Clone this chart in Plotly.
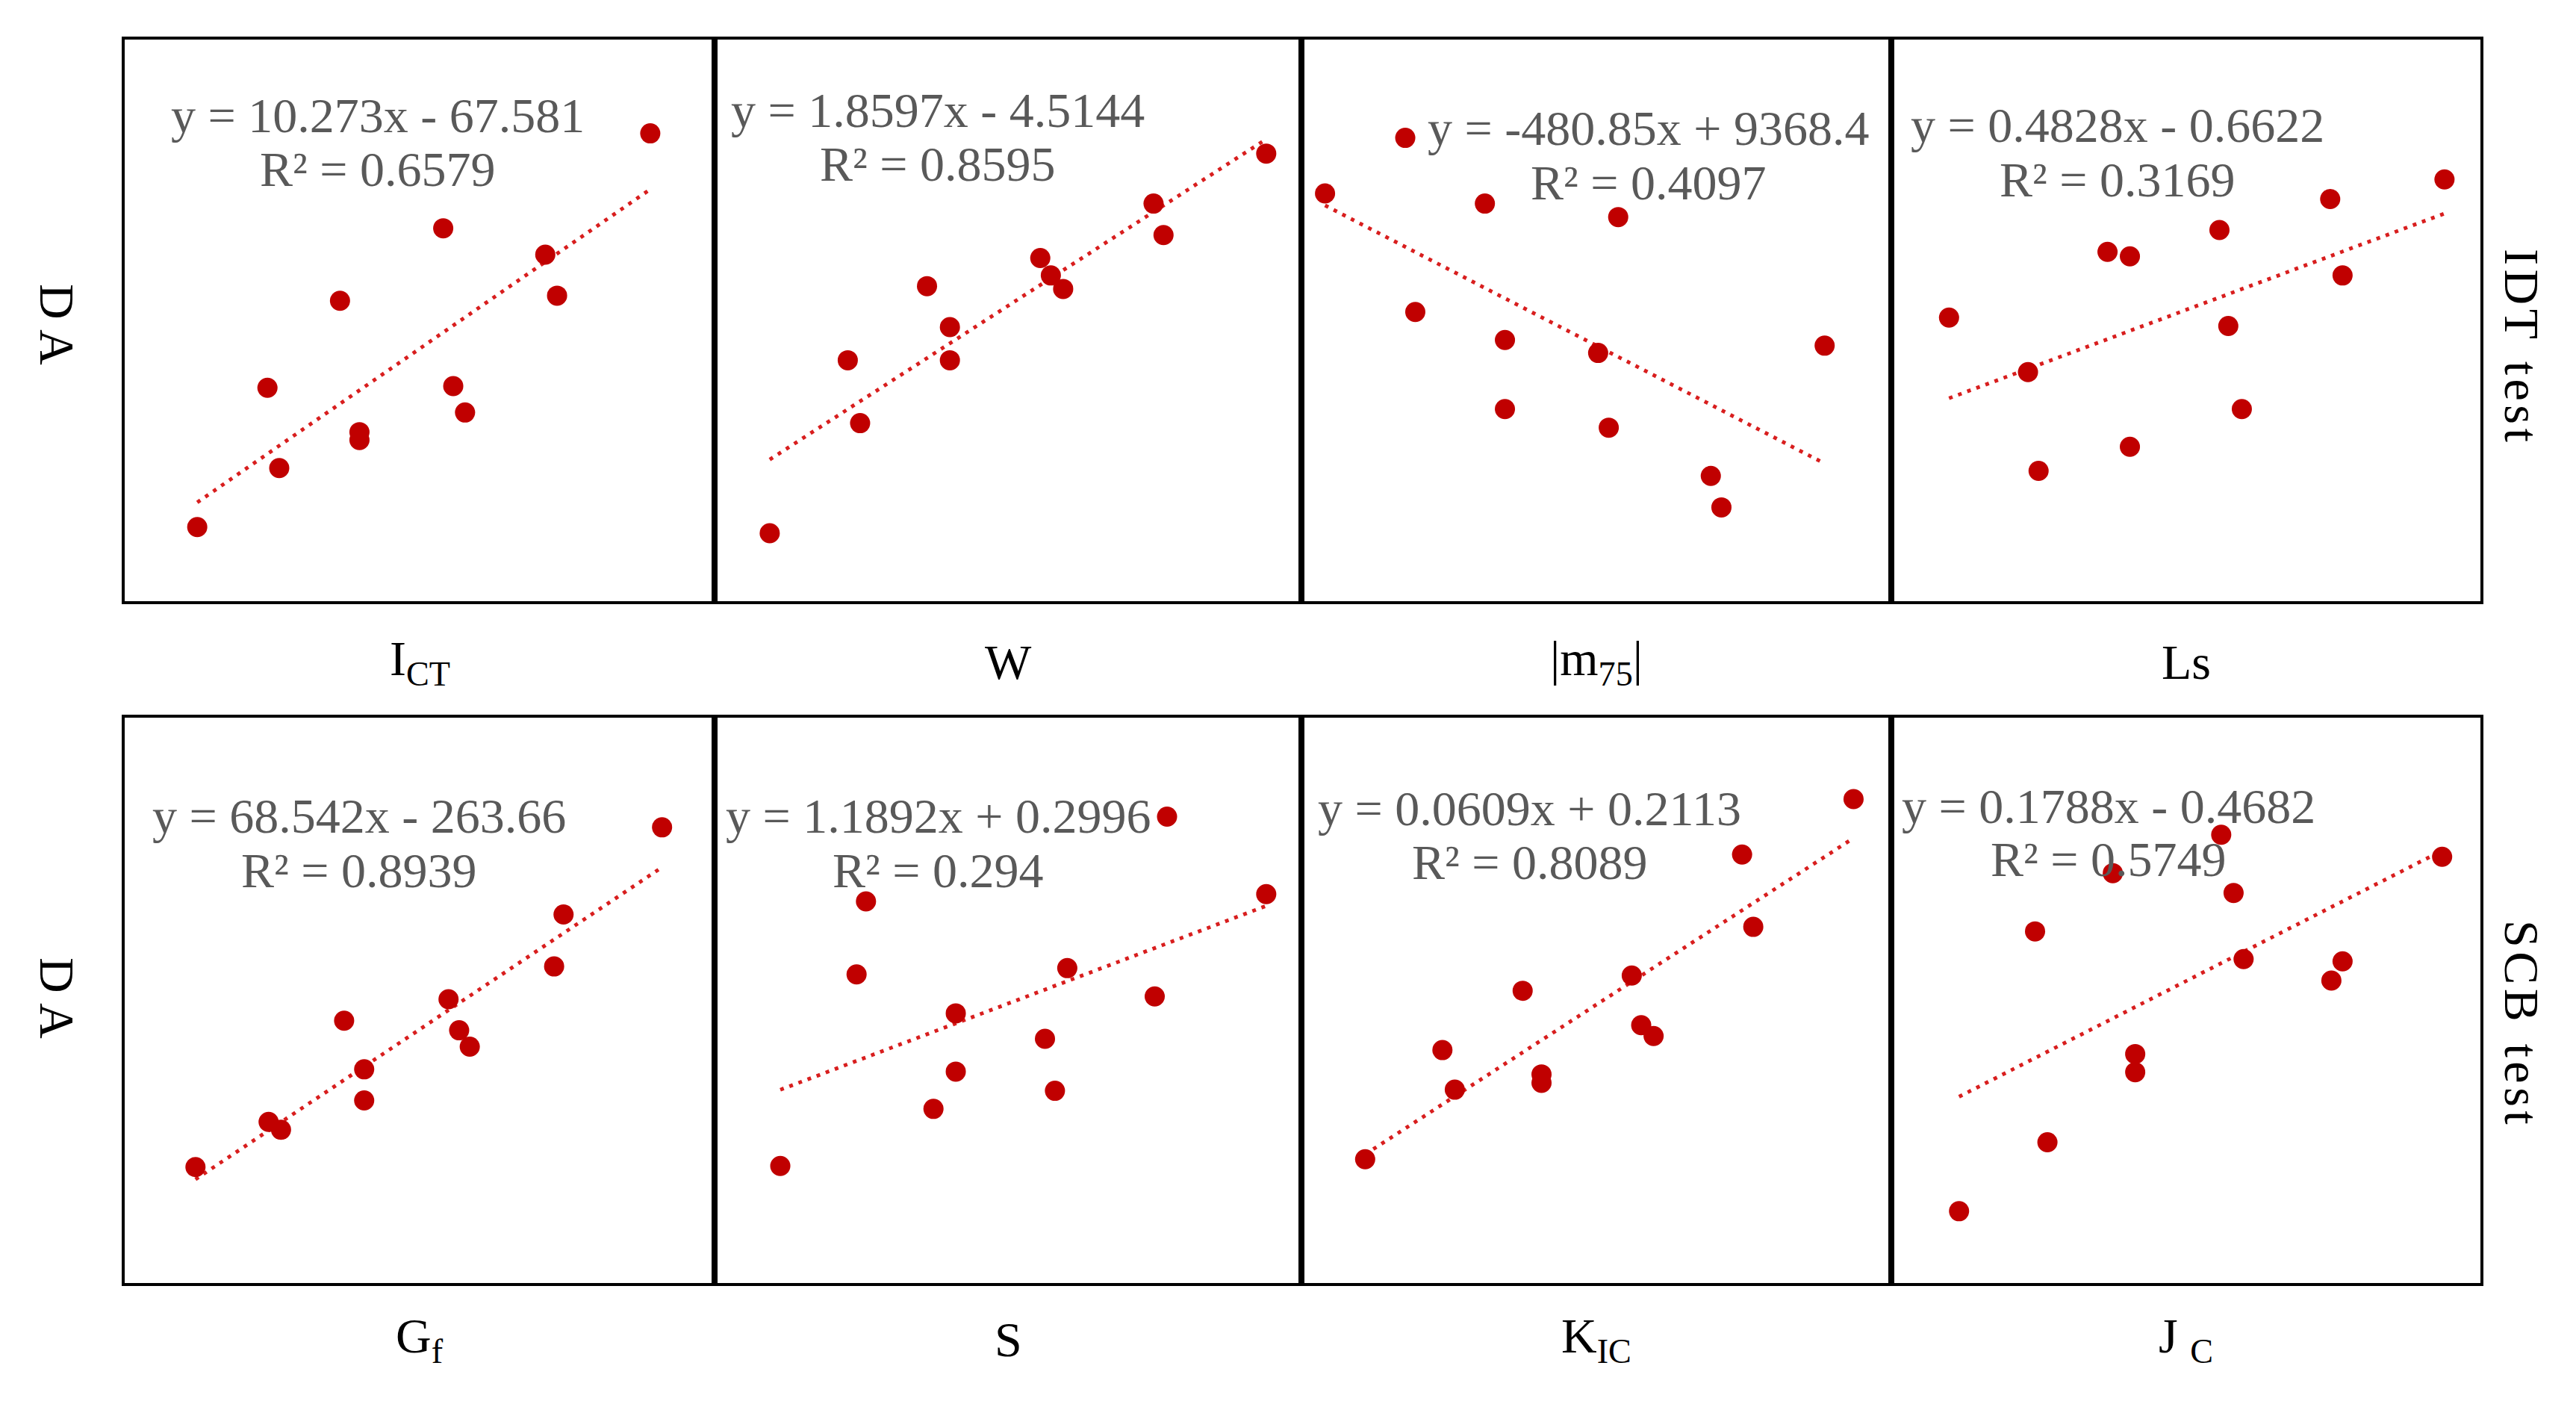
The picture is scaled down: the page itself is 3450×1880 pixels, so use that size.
import numpy as np
import plotly.graph_objects as go

# DA against each indicator (no tick labels shown, so 0-10 scale)
ict_x = [1.23, 2.62, 2.42, 3.65, 3.98, 3.98, 5.40, 5.57, 5.77, 7.13, 7.33, 8.91]
ict_da = [1.32, 2.37, 3.80, 5.35, 3.01, 2.87, 6.64, 3.83, 3.36, 6.17, 5.44, 8.33]

w_x = [0.94, 2.27, 2.48, 3.62, 4.01, 4.01, 5.55, 5.73, 5.94, 7.48, 7.65, 9.40]
w_da = [1.21, 4.29, 3.17, 5.61, 4.88, 4.29, 6.11, 5.80, 5.56, 7.08, 6.52, 7.97]

m75_x = [0.40, 1.76, 1.93, 3.11, 3.45, 3.45, 5.03, 5.21, 5.37, 6.94, 7.12, 8.87]
m75_da = [7.26, 8.25, 5.15, 7.08, 4.65, 3.42, 4.42, 3.09, 6.84, 2.23, 1.67, 4.55]

ls_x = [0.98, 2.32, 2.50, 3.67, 4.05, 4.05, 5.57, 5.72, 5.95, 7.45, 7.66, 9.39]
ls_da = [5.05, 4.08, 2.32, 6.22, 6.14, 2.75, 6.61, 4.90, 3.42, 7.16, 5.80, 7.51]

gf_x = [1.20, 2.44, 2.65, 3.72, 4.06, 4.06, 5.49, 5.67, 5.85, 7.28, 7.44, 9.11]
gf_da = [2.05, 2.85, 2.71, 4.64, 3.78, 3.23, 5.02, 4.47, 4.18, 5.60, 6.52, 8.06]

s_x = [1.12, 2.42, 2.58, 3.73, 4.11, 4.11, 5.63, 5.80, 6.01, 7.50, 7.71, 9.40]
s_da = [2.07, 5.46, 6.75, 3.08, 4.77, 3.74, 4.32, 3.40, 5.57, 5.07, 8.25, 6.88]

kic_x = [1.08, 2.39, 2.60, 3.75, 4.07, 4.07, 5.60, 5.76, 5.97, 7.47, 7.66, 9.36]
kic_da = [2.19, 4.12, 3.42, 5.17, 3.69, 3.54, 5.44, 4.56, 4.37, 7.58, 6.30, 8.56]

jc_x = [1.15, 2.44, 2.65, 3.76, 4.14, 4.14, 5.60, 5.81, 5.98, 7.47, 7.66, 9.35]
jc_da = [1.27, 6.22, 2.49, 7.25, 4.05, 3.73, 7.93, 6.90, 5.73, 5.35, 5.69, 7.54]

fit_eqs = ["y = 10.273x - 67.581", "y = 1.8597x - 4.5144", "y = -480.85x + 9368.4",
           "y = 0.4828x - 0.6622", "y = 68.542x - 263.66", "y = 1.1892x + 0.2996",
           "y = 0.0609x + 0.2113", "y = 0.1788x - 0.4682"]
r2_vals = ["0.6579", "0.8595", "0.4097", "0.3169", "0.8939", "0.294", "0.8089", "0.5749"]
x_titles = ["I<sub>CT</sub>", "W", "|m<sub>75</sub>|", "Ls",
            "G<sub>f</sub>", "S", "K<sub>IC</sub>", "J <sub>C</sub>"]
row_titles = ["I\u200aD\u200aT\u2009 t\u200ae\u200as\u200at", "S\u200aC\u200aB\u2009 t\u200ae\u200as\u200at"]

series = [(ict_x, ict_da), (w_x, w_da), (m75_x, m75_da), (ls_x, ls_da),
          (gf_x, gf_da), (s_x, s_da), (kic_x, kic_da), (jc_x, jc_da)]

# equation label placement inside each panel (axis-domain fractions): x centre, y of line 1, y of line 2
eq_pos = [(0.429, 0.865, 0.769), (0.381, 0.874, 0.778), (0.588, 0.842, 0.746), (0.384, 0.848, 0.751),
          (0.397, 0.826, 0.730), (0.381, 0.826, 0.730), (0.387, 0.840, 0.744), (0.369, 0.843, 0.750)]

W, H = 3450, 1880
OFF = 8  # page body margin shifts the figure; compensate
def px(v):
    return (v - OFF) / W
def py(v):
    return 1 - (v - OFF) / H

x_doms = [[px(167), px(957)], [px(957), px(1743)], [px(1743), px(2533)], [px(2533), px(3322)]]
y_doms = [[py(805), py(53)], [py(1718), py(961)]]

SERIF = "Liberation Serif, Times New Roman, serif"
RED = "#C00000"

fig = go.Figure()
layout = {}
annotations = []

for i, (xs, ys) in enumerate(series):
    n = i + 1
    sfx = "" if n == 1 else str(n)
    row, col = i // 4, i % 4

    # linear trendline fitted to the panel's points, drawn over the data's x span
    slope, icpt = np.polyfit(xs, ys, 1)
    tx = [min(xs), max(xs)]
    ty = [slope * v + icpt for v in tx]
    fig.add_trace(go.Scatter(x=tx, y=ty, mode="lines", xaxis="x" + sfx, yaxis="y" + sfx,
                             line=dict(color="#D81E1E", width=5, dash="5px,8px"),
                             showlegend=False, hoverinfo="skip"))
    fig.add_trace(go.Scatter(x=xs, y=ys, mode="markers", xaxis="x" + sfx, yaxis="y" + sfx,
                             marker=dict(color=RED, size=27), showlegend=False))

    axis_common = dict(range=[0, 10], showticklabels=False, ticks="", showgrid=False,
                       zeroline=False, showline=True, linecolor="black", linewidth=4,
                       mirror=True, fixedrange=True)
    layout["xaxis" + sfx] = dict(domain=x_doms[col], anchor="y" + sfx, **axis_common)
    layout["yaxis" + sfx] = dict(domain=y_doms[row], anchor="x" + sfx, **axis_common)

    ex, ey1, ey2 = eq_pos[i]
    eq_font = dict(family=SERIF, size=66, color="#595959")
    for txt, ey in [(fit_eqs[i], ey1), ("R² = " + r2_vals[i], ey2)]:
        annotations.append(dict(text=txt, xref="x" + sfx + " domain", yref="y" + sfx + " domain",
                                x=ex, y=ey, xanchor="center", yanchor="middle",
                                showarrow=False, font=eq_font))
    annotations.append(dict(text=x_titles[i], xref="x" + sfx + " domain", yref="y" + sfx + " domain",
                            x=0.5, y=-0.108 if row == 0 else -0.10, xanchor="center", yanchor="middle",
                            showarrow=False, font=dict(family=SERIF, size=66, color="black")))

for r, ttl in enumerate(row_titles):
    annotations.append(dict(text="D\u2009A", xref="paper", yref="paper", x=px(77),
                            y=py(434 if r == 0 else 1336),
                            xanchor="center", yanchor="middle", textangle=90, showarrow=False,
                            font=dict(family=SERIF, size=66, color="black")))
    annotations.append(dict(text=ttl, xref="paper", yref="paper", x=px(3378),
                            y=py(462 if r == 0 else 1369),
                            xanchor="center", yanchor="middle", textangle=90, showarrow=False,
                            font=dict(family=SERIF, size=66, color="black")))

fig.update_layout(width=W, height=H, margin=dict(l=0, r=0, t=0, b=0),
                  paper_bgcolor="white", plot_bgcolor="white",
                  annotations=annotations, **layout)

fig.write_html("out.html")
